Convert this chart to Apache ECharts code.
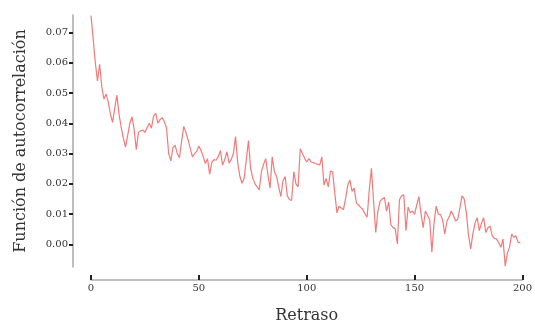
<!DOCTYPE html>
<html>
<head>
<meta charset="utf-8">
<script src="https://cdn.jsdelivr.net/npm/echarts@6/dist/echarts.min.js"></script>
<style>
html,body{margin:0;padding:0;background:#fff;}
#c{width:535px;height:329px;}
</style>
</head>
<body>
<div id="c"></div>
<script>
const xTicks = [0, 50, 100, 150, 200];
const yTicks = [0.00, 0.01, 0.02, 0.03, 0.04, 0.05, 0.06, 0.07];
const acf = [
0.0756,0.0680,0.0600,0.0540,0.0595,0.0520,0.0480,0.0497,0.0470,0.0430,
0.0403,0.0450,0.0493,0.0430,0.0387,0.0350,0.0321,0.0360,0.0400,0.0421,
0.0380,0.0313,0.0370,0.0375,0.0378,0.0370,0.0385,0.0400,0.0384,0.0424,
0.0433,0.0400,0.0412,0.0419,0.0405,0.0385,0.0300,0.0276,0.0320,0.0327,
0.0300,0.0286,0.0340,0.0390,0.0370,0.0345,0.0318,0.0289,0.0300,0.0307,
0.0325,0.0310,0.0290,0.0267,0.0283,0.0232,0.0270,0.0280,0.0278,0.0290,
0.0310,0.0262,0.0280,0.0306,0.0268,0.0280,0.0300,0.0356,0.0270,0.0225,
0.0202,0.0218,0.0280,0.0343,0.0250,0.0218,0.0200,0.0190,0.0180,0.0240,
0.0265,0.0283,0.0230,0.0186,0.0289,0.0240,0.0225,0.0190,0.0158,0.0210,
0.0224,0.0160,0.0148,0.0145,0.0240,0.0200,0.0190,0.0316,0.0300,0.0285,
0.0272,0.0283,0.0272,0.0270,0.0267,0.0265,0.0262,0.0289,0.0196,0.0218,
0.0190,0.0242,0.0240,0.0170,0.0104,0.0126,0.0120,0.0115,0.0150,0.0195,
0.0213,0.0175,0.0186,0.0137,0.0130,0.0122,0.0115,0.0100,0.0090,0.0180,
0.0251,0.0140,0.0039,0.0110,0.0142,0.0150,0.0155,0.0110,0.0140,0.0065,
0.0055,0.0052,0.0001,0.0148,0.0160,0.0164,0.0045,0.0123,0.0104,0.0110,
0.0099,0.0130,0.0158,0.0100,0.0055,0.0110,0.0095,0.0082,-0.0026,0.0070,
0.0126,0.0100,0.0099,0.0080,0.0034,0.0077,0.0090,0.0110,0.0095,0.0077,
0.0082,0.0120,0.0160,0.0150,0.0104,0.0030,-0.0015,0.0034,0.0070,0.0088,
0.0045,0.0070,0.0088,0.0039,0.0055,0.0060,0.0028,0.0020,0.0017,0.0005,
-0.0010,0.0017,-0.0072,-0.0030,-0.0010,0.0034,0.0023,0.0028,0.0007,0.0005
];
const lags = acf.map((_, i) => i);

const FONT = 'DejaVu Serif';
const chart = echarts.init(document.getElementById('c'), null, {renderer: 'canvas'});
chart.setOption({
  animation: false,
  backgroundColor: '#ffffff',
  grid: {left: 91, right: 10, top: 15, bottom: 59},
  xAxis: {
    type: 'value', min: 0, max: 200, interval: 50, offset: 13,
    name: 'Retraso', nameLocation: 'middle', nameGap: 28,
    nameTextStyle: {fontFamily: FONT, fontSize: 16, color: '#333'},
    axisLine: {show: true, onZero: false, lineStyle: {color: '#aaaaaa', width: 1.5}},
    axisTick: {show: true, inside: true, length: 5, lineStyle: {color: '#222', width: 2}, customValues: xTicks},
    axisLabel: {fontFamily: FONT, fontSize: 10, color: '#333', margin: 3, customValues: xTicks},
    splitLine: {show: false}
  },
  yAxis: {
    type: 'value', min: -0.0075, max: 0.0758, offset: 18,
    name: 'Función de autocorrelación', nameLocation: 'middle', nameGap: 44,
    nameTextStyle: {fontFamily: FONT, fontSize: 16, color: '#333'},
    axisLine: {show: true, onZero: false, lineStyle: {color: '#aaaaaa', width: 1.5}},
    axisTick: {show: true, length: 4, lineStyle: {color: '#222', width: 2}, customValues: yTicks},
    axisLabel: {fontFamily: FONT, fontSize: 10, color: '#333', margin: 5, customValues: yTicks,
      formatter: v => v.toFixed(2)},
    splitLine: {show: false}
  },
  series: [{
    type: 'line',
    data: lags.map((l, i) => [l, acf[i]]),
    showSymbol: false,
    lineStyle: {color: '#f27a7a', width: 1.2},
    itemStyle: {color: '#f27a7a'}
  }]
});
</script>
</body>
</html>
